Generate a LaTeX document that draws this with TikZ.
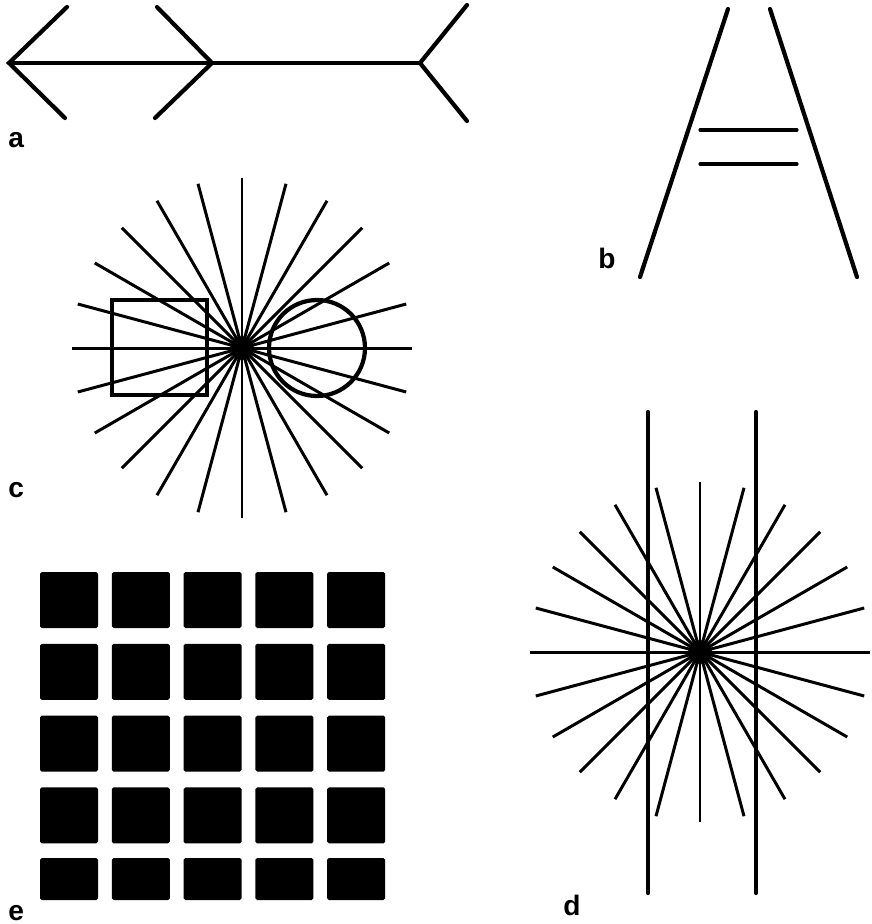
\documentclass[tikz,border=0pt]{standalone}
\usepackage{fontspec}
\setmainfont{Liberation Sans}
\usepackage{xcolor}
\usepackage{tikz}
\usetikzlibrary{positioning}
\definecolor{ink}{HTML}{000000}
\tikzset{
  heavy/.style ={draw=ink, line width=2.4pt, line cap=round},
  lite/.style  ={draw=ink, line width=1.8pt, line cap=round},
  ray/.style   ={draw=ink, line width=1.7pt},
  tile/.style  ={fill=ink, rounded corners=1pt},
  tag/.style   ={font=\fontsize{16}{16}\selectfont\bfseries, text=ink,
                 anchor=base west, inner sep=0pt}
}
\begin{document}
\begin{tikzpicture}[x=0.02cm, y=-0.02cm]
  \useasboundingbox (0,0) rectangle (872,924);

  % a: Mueller-Lyer
  \coordinate (tipl) at (9,63);
  \coordinate (tipm) at (212,63);
  \coordinate (tipr) at (420,63);
  \draw[heavy] (67,7) -- (tipl) -- (65,118);
  \draw[heavy] (157,7) -- (tipm) -- (155,118);
  \draw[heavy] (467,5) -- (tipr) -- (467,121);
  \draw[heavy] (tipl) -- (tipm);
  \draw[lite]  (tipm) -- (tipr);

  % b: Ponzo
  \draw[heavy] (728,9) -- (640,277);
  \draw[heavy] (770,9) -- (857,277);
  \draw[lite]  (700,130) -- (797,130);
  \draw[lite]  (700,164) -- (797,164);

  % c: square and circle on rays
  \coordinate (hubc) at (242,348);
  \foreach \a in {0,15,...,345}
    \draw[ray] (hubc) -- ++(\a:170);
  \fill[ink] (hubc) circle (12);
  \draw[heavy, line cap=butt] (112,300) rectangle (207,395);
  \draw[heavy] (317,348) circle (48);

  % d: Hering
  \coordinate (hubd) at (700,652);
  \foreach \a in {0,15,...,345}
    \draw[ray] (hubd) -- ++(\a:170);
  \fill[ink] (hubd) circle (12);
  \draw[heavy] (648,412) -- (648,893);
  \draw[heavy] (756,412) -- (756,893);

  % e: Hermann grid
  \foreach \i in {0,...,4}
    \foreach \j in {0,...,3}
      \fill[tile] (40+71.8*\i,572+71.8*\j) rectangle ++(58,56);
  \foreach \i in {0,...,4}
    \fill[tile] (40+71.8*\i,858) rectangle ++(58,42);

  \node[tag] (taga) at (8,147) {a};
  \node[tag] (tagb) at (598,268) {b};
  \node[tag] (tagc) at (8,497) {c};
  \node[tag] (tage) at (8,920) {e};
  \node[tag] (tagd) at (563,915) {d};
\end{tikzpicture}
\end{document}
